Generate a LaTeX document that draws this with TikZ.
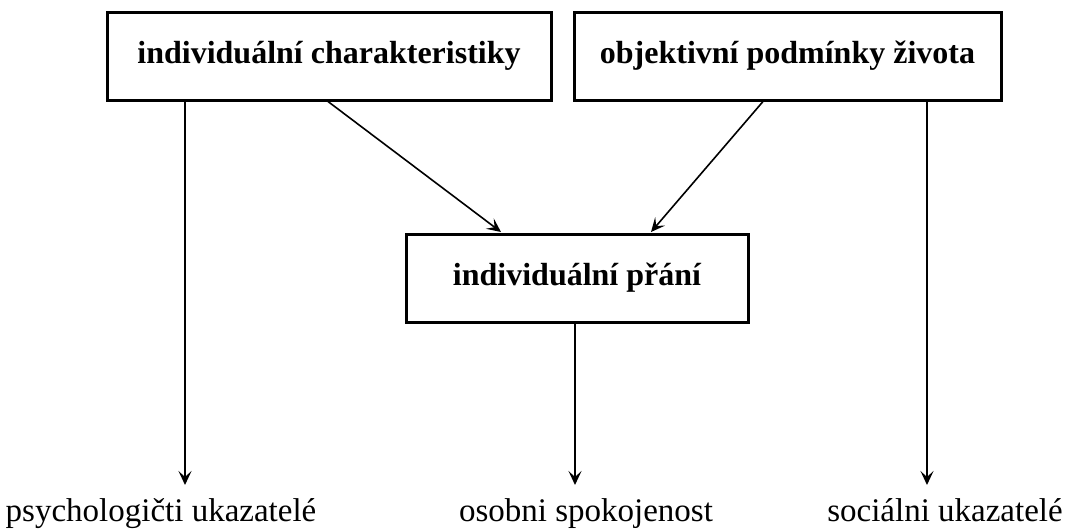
\documentclass[tikz,border=0pt]{standalone}
\usepackage{fontspec}
\setmainfont{Liberation Serif}
\usetikzlibrary{arrows.meta}
\begin{document}
\begin{tikzpicture}[x=1pt,y=-1pt,
  box/.style={draw,line width=3pt,inner sep=0pt,font=\fontsize{32}{36}\selectfont\bfseries},
  conn/.style={line width=2pt,-{Stealth[length=14pt,width=13pt,inset=6pt]}},
  dconn/.style={line width=1.6pt,-{Stealth[length=14pt,width=13pt,inset=6pt]}},
  lbl/.style={inner sep=0pt,anchor=base,font=\fontsize{33}{38}\selectfont}]
\useasboundingbox (0,0) rectangle (1069,528);
\node[box,minimum width=444pt,minimum height=88pt] (ic) at (329,56) {individuální charakteristiky};
\node[box,minimum width=427pt,minimum height=88pt] (op) at (787.5,56) {objektivní podmínky života};
\node[box,minimum width=342pt,minimum height=88pt] (ip) at (577,278) {individuální přání};
\coordinate (a1) at (185,485);
\coordinate (a2) at (575,485);
\coordinate (a3) at (927,485);
\node[lbl] (l1) at (161,521) {psychologičti ukazatelé};
\node[lbl] (l2) at (586,521) {osobni spokojenost};
\node[lbl] (l3) at (945,521) {sociálni ukazatelé};
\draw[conn] (ic.south -| a1) -- (a1);
\draw[conn] (ip.south -| a2) -- (a2);
\draw[conn] (op.south -| a3) -- (a3);
\draw[dconn] (ic.south -| 328,0) -- (501,232);
\draw[dconn] (op.south -| 763,0) -- (651,232);
\end{tikzpicture}
\end{document}
